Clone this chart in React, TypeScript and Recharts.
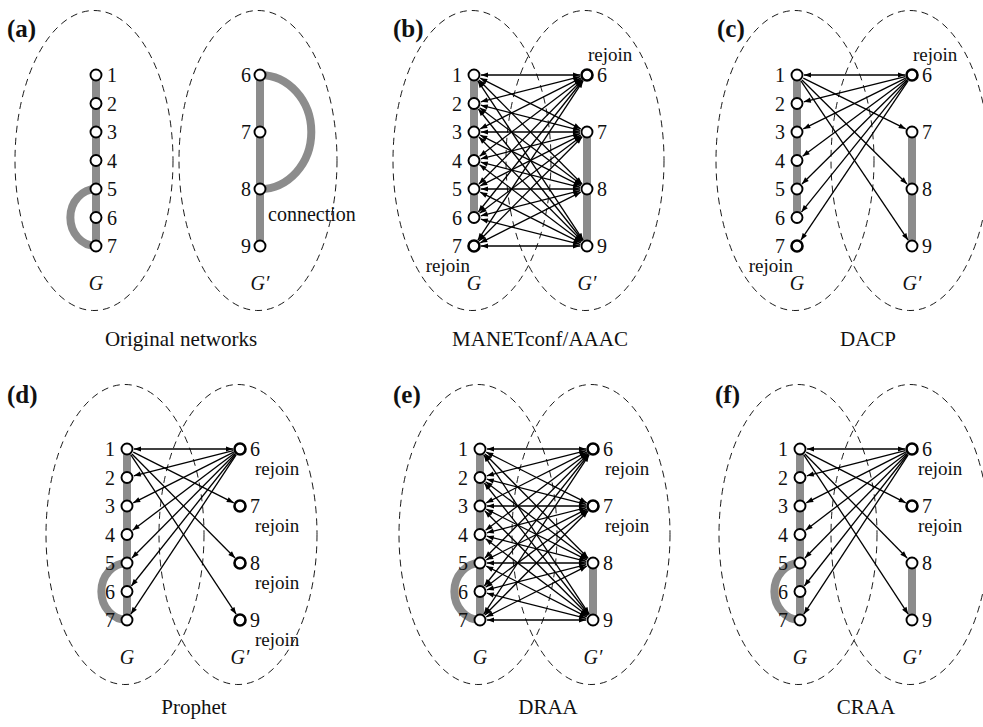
import React from "react";
import {
  ScatterChart,
  Scatter,
  XAxis,
  YAxis,
  ReferenceArea,
  ReferenceLine,
  ReferenceDot,
} from "recharts";

// ---- diagram data ----
const G_NODES = [1, 2, 3, 4, 5, 6, 7];
const G_PRIME_NODES = [6, 7, 8, 9];

const PANEL_LETTERS = ["(a)", "(b)", "(c)", "(d)", "(e)", "(f)"];
const CAPTIONS = ["Original networks", "MANETconf/AAAC", "DACP", "Prophet", "DRAA", "CRAA"];

// gray intra-network links [from, to]
const G_BARS: (number[] | null)[] = [[1, 7], [1, 6], [1, 6], [1, 7], [1, 7], [1, 7]];
const G_PRIME_BARS: (number[] | null)[] = [[6, 9], [7, 9], [7, 9], null, [8, 9], [8, 9]];
const G_ARCS: (number[] | null)[] = [[5, 7], null, null, [5, 7], [5, 7], [5, 7]];
const G_PRIME_ARCS: (number[] | null)[] = [[6, 8], null, null, null, null, null];

// nodes that rejoin
const REJOIN_G = [[], [7], [7], [], [], []];
const REJOIN_G_PRIME = [[], [6], [6], [6, 7, 8, 9], [6, 7], [6, 7]];

// messages between G node and G' node
type Dir = "both" | "toG" | "toGp";
type Link = [number, number, Dir];
const FLOOD_LINKS: Link[] = G_NODES.flatMap((g) =>
  G_PRIME_NODES.map((p) => [g, p, "both"] as Link)
);
const STAR_LINKS: Link[] = [
  [1, 6, "both"],
  [2, 6, "toG"],
  [3, 6, "toG"],
  [4, 6, "toG"],
  [5, 6, "toG"],
  [6, 6, "toG"],
  [7, 6, "toG"],
  [1, 7, "toGp"],
  [1, 8, "toGp"],
  [1, 9, "toGp"],
];
const PANEL_LINKS: Link[][] = [[], FLOOD_LINKS, STAR_LINKS, STAR_LINKS, FLOOD_LINKS, STAR_LINKS];

// ---- layout ----
const W = 983;
const H = 727;
const G_X = [96, 474, 797, 127, 480, 800];
const GP_X = [260, 587, 912, 240, 593, 912];
const ROW_TOP = [75, 449];
const STEP = 28.5;
const LETTER_X = [7, 393, 717, 7, 393, 715];
const LETTER_Y = [37, 403];
const CAPTION_X = [181, 540, 868, 194, 548, 866];
const CAPTION_Y = [346, 714];
const REJOIN_GP_OFFSET: [number, number, "start" | "end"][] = [
  [0, 0, "start"],
  [1, -14, "start"],
  [1, -14, "start"],
  [15, 26, "start"],
  [12, 26, "start"],
  [6, 26, "start"],
];

const FONT = '"Liberation Serif", "Times New Roman", "DejaVu Serif", serif';
const GRAY = "#8c8c8c";
const NODE_R = 5.5;
const EDGE_GAP = 7;

const PANELS = [0, 1, 2, 3, 4, 5];
const rowOf = (p: number) => (p < 3 ? 0 : 1);
const gY = (p: number, n: number) => ROW_TOP[rowOf(p)] + (n - 1) * STEP;
const gpY = (p: number, n: number) => ROW_TOP[rowOf(p)] + (n - 6) * 2 * STEP;

const nodes = PANELS.flatMap((p) => [
  ...G_NODES.map((n) => ({ x: G_X[p], y: gY(p, n), bold: REJOIN_G[p].includes(n) })),
  ...G_PRIME_NODES.map((n) => ({ x: GP_X[p], y: gpY(p, n), bold: REJOIN_G_PRIME[p].includes(n) })),
]);

type TextItem = {
  x: number;
  y: number;
  text: string;
  anchor: "start" | "middle" | "end";
  size: number;
  bold?: boolean;
  italic?: boolean;
};
const texts: TextItem[] = [];
PANELS.forEach((p) => {
  const r = rowOf(p);
  const orig = p === 0;
  G_NODES.forEach((n) =>
    texts.push({
      x: orig ? G_X[p] + 11 : G_X[p] - 12,
      y: gY(p, n) + 7,
      text: String(n),
      anchor: orig ? "start" : "end",
      size: 20,
    })
  );
  G_PRIME_NODES.forEach((n) =>
    texts.push({
      x: orig ? GP_X[p] - 9 : GP_X[p] + 10,
      y: gpY(p, n) + 7,
      text: String(n),
      anchor: orig ? "end" : "start",
      size: 20,
    })
  );
  texts.push({ x: G_X[p], y: gY(p, 7) + 44, text: "G", anchor: "middle", size: 20, italic: true });
  texts.push({ x: GP_X[p], y: gY(p, 7) + 44, text: "G\u2032", anchor: "middle", size: 20, italic: true });
  texts.push({ x: LETTER_X[p], y: LETTER_Y[r], text: PANEL_LETTERS[p], anchor: "start", size: 25, bold: true });
  texts.push({ x: CAPTION_X[p], y: CAPTION_Y[r], text: CAPTIONS[p], anchor: "middle", size: 21 });
  REJOIN_G[p].forEach((n) =>
    texts.push({ x: G_X[p] - 4, y: gY(p, n) + 26, text: "rejoin", anchor: "end", size: 19 })
  );
  const [dx, dy, anc] = REJOIN_GP_OFFSET[p];
  REJOIN_G_PRIME[p].forEach((n) =>
    texts.push({ x: GP_X[p] + dx, y: gpY(p, n) + dy, text: "rejoin", anchor: anc, size: 19 })
  );
});
texts.push({
  x: GP_X[0] + 8,
  y: (gpY(0, 8) + gpY(0, 9)) / 2 + 3,
  text: "connection",
  anchor: "start",
  size: 20,
});

// ---- shapes ----
const EllipseShape = (props: any) => {
  const { x, y, width, height } = props;
  const w = Math.abs(width);
  const h = Math.abs(height);
  const left = width < 0 ? x + width : x;
  const top = height < 0 ? y + height : y;
  return (
    <ellipse
      cx={left + w / 2}
      cy={top + h / 2}
      rx={w / 2}
      ry={h / 2}
      fill="none"
      stroke="#000"
      strokeWidth={0.9}
      strokeDasharray="7 5"
    />
  );
};

const arcShape = (side: "left" | "right") => (props: any) => {
  const { x1, y1, x2, y2 } = props;
  const ry = Math.abs(y2 - y1) / 2;
  const rx = ry * 0.9;
  const sweep = side === "right" ? 1 : 0;
  return (
    <path
      d={`M ${x1} ${y1} A ${rx} ${ry} 0 0 ${sweep} ${x2} ${y2}`}
      fill="none"
      stroke={GRAY}
      strokeWidth={8}
    />
  );
};

const head = (tx: number, ty: number, ux: number, uy: number) => {
  const hl = 7;
  const hw = 2.6;
  const bx = tx - ux * hl;
  const by = ty - uy * hl;
  return `${tx},${ty} ${bx - uy * hw},${by + ux * hw} ${bx + uy * hw},${by - ux * hw}`;
};

const arrowShape = (dir: Dir) => (props: any) => {
  const { x1, y1, x2, y2 } = props;
  const len = Math.hypot(x2 - x1, y2 - y1);
  const ux = (x2 - x1) / len;
  const uy = (y2 - y1) / len;
  const sx = x1 + ux * EDGE_GAP;
  const sy = y1 + uy * EDGE_GAP;
  const ex = x2 - ux * EDGE_GAP;
  const ey = y2 - uy * EDGE_GAP;
  return (
    <g>
      <line x1={sx} y1={sy} x2={ex} y2={ey} stroke="#000" strokeWidth={1.3} />
      {dir !== "toG" && <polygon points={head(ex, ey, ux, uy)} fill="#000" />}
      {dir !== "toGp" && <polygon points={head(sx, sy, -ux, -uy)} fill="#000" />}
    </g>
  );
};

const NodeShape = (props: any) => {
  const { cx, cy, payload } = props;
  return (
    <circle
      cx={cx}
      cy={cy}
      r={NODE_R}
      fill="#fff"
      stroke="#000"
      strokeWidth={payload.bold ? 2.6 : 1.9}
    />
  );
};

const textShape = (t: TextItem) => (props: any) => (
  <text
    x={props.cx}
    y={props.cy}
    textAnchor={t.anchor}
    fontFamily={FONT}
    fontSize={t.size}
    fontWeight={t.bold ? "bold" : "normal"}
    fontStyle={t.italic ? "italic" : "normal"}
    fill="#111"
  >
    {t.text}
  </text>
);

export default function App() {
  return (
    <div style={{ position: "absolute", left: 0, top: 0, background: "#fff" }}>
      <ScatterChart width={W} height={H} margin={{ top: 0, right: 0, bottom: 0, left: 0 }}>
        <XAxis type="number" dataKey="x" domain={[0, W]} allowDataOverflow hide />
        <YAxis type="number" dataKey="y" domain={[0, H]} allowDataOverflow reversed hide />

        {/* dashed network boundaries */}
        {PANELS.flatMap((p) =>
          [G_X[p] - 2, GP_X[p] - 2].map((cx, i) => {
            const cy = (gY(p, 1) + gY(p, 7)) / 2;
            return (
              <ReferenceArea
                key={`ell-${p}-${i}`}
                x1={cx - 79}
                x2={cx + 79}
                y1={cy - 150}
                y2={cy + 150}
                ifOverflow="visible"
                shape={EllipseShape}
              />
            );
          })
        )}

        {/* gray intra-network links */}
        {PANELS.flatMap((p) => {
          const out: React.ReactNode[] = [];
          const gb = G_BARS[p];
          if (gb)
            out.push(
              <ReferenceLine
                key={`gb-${p}`}
                segment={[{ x: G_X[p], y: gY(p, gb[0]) }, { x: G_X[p], y: gY(p, gb[1]) }]}
                stroke={GRAY}
                strokeWidth={8}
                ifOverflow="visible"
              />
            );
          const pb = G_PRIME_BARS[p];
          if (pb)
            out.push(
              <ReferenceLine
                key={`pb-${p}`}
                segment={[{ x: GP_X[p], y: gpY(p, pb[0]) }, { x: GP_X[p], y: gpY(p, pb[1]) }]}
                stroke={GRAY}
                strokeWidth={8}
                ifOverflow="visible"
              />
            );
          const ga = G_ARCS[p];
          if (ga)
            out.push(
              <ReferenceLine
                key={`ga-${p}`}
                segment={[{ x: G_X[p], y: gY(p, ga[0]) }, { x: G_X[p], y: gY(p, ga[1]) }]}
                ifOverflow="visible"
                shape={arcShape("left")}
              />
            );
          const pa = G_PRIME_ARCS[p];
          if (pa)
            out.push(
              <ReferenceLine
                key={`pa-${p}`}
                segment={[{ x: GP_X[p], y: gpY(p, pa[0]) }, { x: GP_X[p], y: gpY(p, pa[1]) }]}
                ifOverflow="visible"
                shape={arcShape("right")}
              />
            );
          return out;
        })}

        {/* messages */}
        {PANELS.flatMap((p) =>
          PANEL_LINKS[p].map(([g, gp, dir], i) => (
            <ReferenceLine
              key={`ar-${p}-${i}`}
              segment={[{ x: G_X[p], y: gY(p, g) }, { x: GP_X[p], y: gpY(p, gp) }]}
              ifOverflow="visible"
              shape={arrowShape(dir)}
            />
          ))
        )}

        <Scatter data={nodes} shape={NodeShape} isAnimationActive={false} />

        {texts.map((t, i) => (
          <ReferenceDot key={`t-${i}`} x={t.x} y={t.y} r={0} ifOverflow="visible" shape={textShape(t)} />
        ))}
      </ScatterChart>
    </div>
  );
}
